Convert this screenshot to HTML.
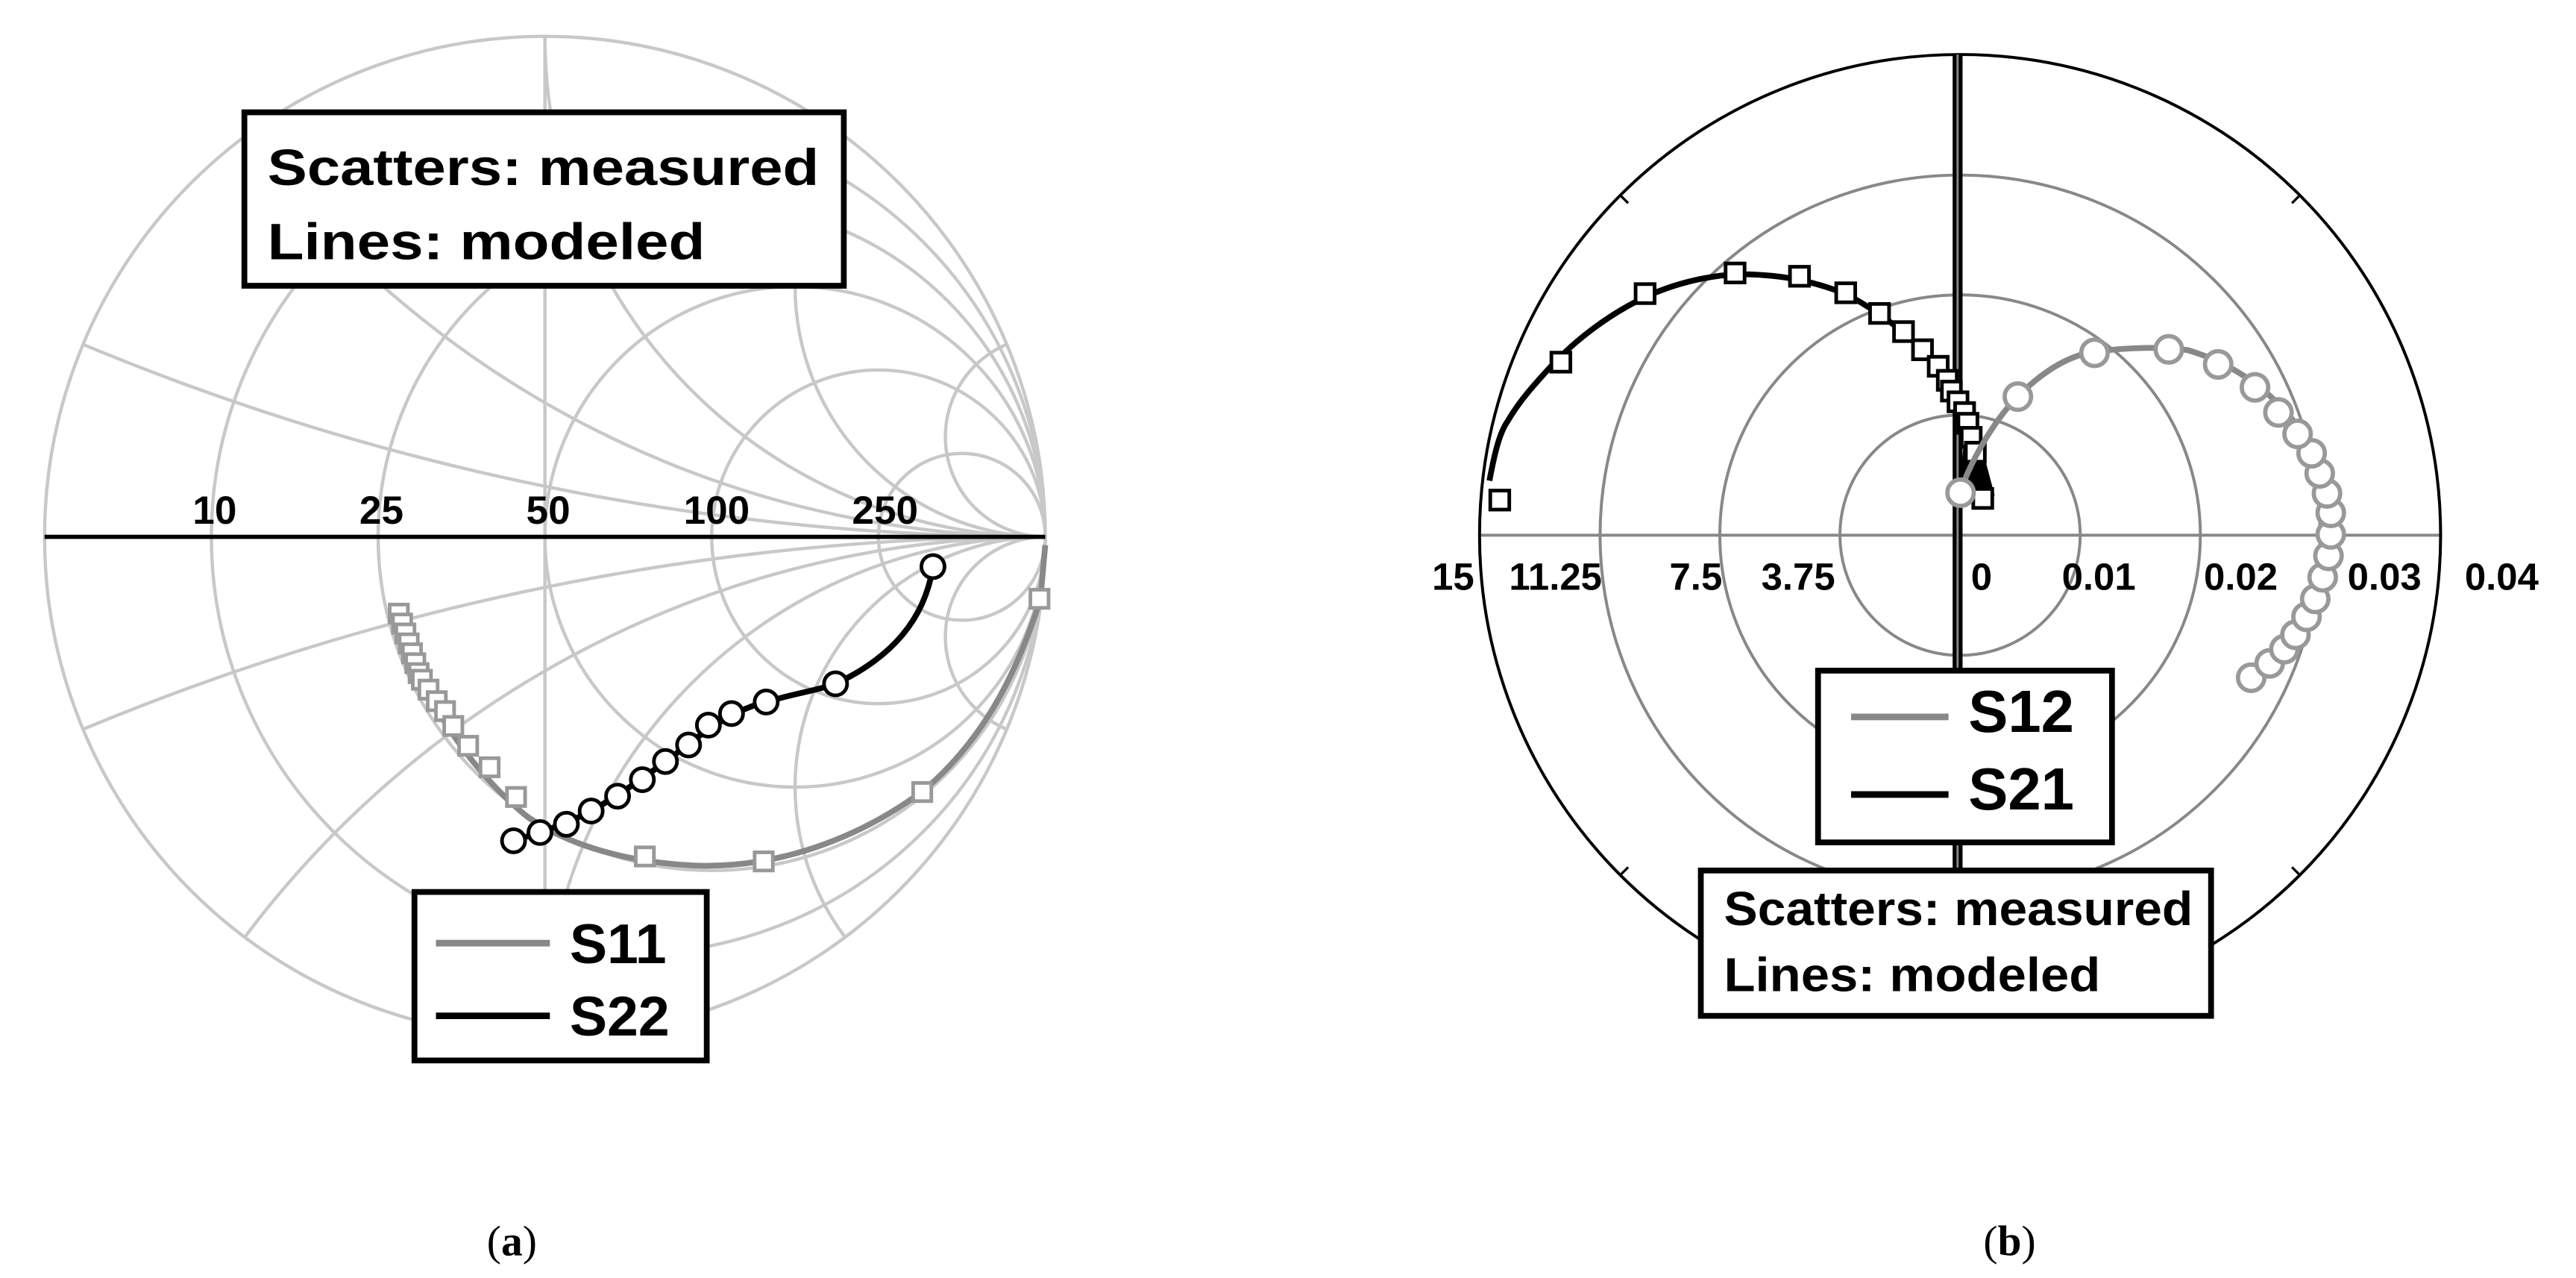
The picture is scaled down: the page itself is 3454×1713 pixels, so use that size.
<!DOCTYPE html>
<html><head><meta charset="utf-8"><style>
html,body{margin:0;padding:0;background:#fff;width:3454px;height:1713px;overflow:hidden;position:relative;}
svg{display:block;position:absolute;left:0;top:0;overflow:hidden;}
text{font-family:"Liberation Sans",Arial,sans-serif;}
</style></head><body>
<svg width="3454" height="1713" viewBox="0 0 1560 773.7" preserveAspectRatio="none" xmlns="http://www.w3.org/2000/svg">
<rect width="1560" height="773.7" fill="#fff"/>
<!-- Smith chart -->
<g fill="none" stroke="#c8c8c8" stroke-width="2">
<circle cx="330" cy="325" r="303"/>
<circle cx="380.5" cy="325" r="252.5"/>
<circle cx="431" cy="325" r="202"/>
<circle cx="481.5" cy="325" r="151.5"/>
<circle cx="532" cy="325" r="101"/>
<circle cx="582.5" cy="325" r="50.5"/>
<path d="M633,325 A1515,1515 0 0 1 50.3,208.5"/>
<path d="M633,325 A1515,1515 0 0 0 50.3,441.5"/>
<path d="M633,325 A606,606 0 0 1 148.2,82.6"/>
<path d="M633,325 A606,606 0 0 0 148.2,567.4"/>
<path d="M633,325 A303,303 0 0 1 330,22"/>
<path d="M633,325 A303,303 0 0 0 330,628"/>
<path d="M633,325 A151.5,151.5 0 0 1 511.8,82.6"/>
<path d="M633,325 A151.5,151.5 0 0 0 511.8,567.4"/>
<path d="M633,325 A60.6,60.6 0 0 1 609.7,208.5"/>
<path d="M633,325 A60.6,60.6 0 0 0 609.7,441.5"/>
<line x1="330" y1="22" x2="330" y2="628"/>
</g>
<line x1="27" y1="325" x2="633" y2="325" stroke="#000" stroke-width="2.5"/>
<g font-size="24" font-weight="bold" text-anchor="middle" fill="#000">
<text x="130" y="317">10</text><text x="231" y="317">25</text><text x="332" y="317">50</text><text x="434" y="317">100</text><text x="536" y="317">250</text>
</g>
<!-- S11 -->
<path d="M241.5,371 C245,390 252,408 262,425 C275,448 295,475 320,495 C345,512 380,522 420,524 C470,526 520,508 560,478 C595,448 615,410 630,363 L633,330" fill="none" stroke="#888" stroke-width="3.5"/>
<g fill="#fff" stroke="#999" stroke-width="2.2">
<rect x="236" y="366" width="11" height="11"/><rect x="238" y="372" width="11" height="11"/><rect x="240" y="378" width="11" height="11"/><rect x="242" y="384" width="11" height="11"/><rect x="244" y="390" width="11" height="11"/><rect x="246" y="396" width="11" height="11"/><rect x="248" y="402" width="11" height="11"/><rect x="250" y="406" width="11" height="11"/>
<rect x="254" y="412" width="11" height="11"/><rect x="259" y="419" width="11" height="11"/><rect x="264" y="425" width="11" height="11"/><rect x="269" y="434" width="11" height="11"/><rect x="278" y="446" width="11" height="11"/><rect x="291" y="459" width="11" height="11"/><rect x="307" y="477" width="11" height="11"/><rect x="385" y="513" width="11" height="11"/><rect x="457" y="516" width="11" height="11"/><rect x="553" y="474" width="11" height="11"/><rect x="624" y="357" width="11" height="11"/>
</g>
<!-- S22 -->
<path d="M311,509 C330,503 345,498 360,490 C380,478 400,464 420,448 C435,437 450,428 464,425 C480,420 495,418 506,414 C540,398 560,375 565,343" fill="none" stroke="#000" stroke-width="3.5"/>
<g fill="#fff" stroke="#000" stroke-width="2.2">
<circle cx="565" cy="343" r="7"/><circle cx="506" cy="414" r="7"/><circle cx="464" cy="425" r="7"/><circle cx="443" cy="432" r="7"/><circle cx="429" cy="439" r="7"/><circle cx="417" cy="451" r="7"/><circle cx="403" cy="461" r="7"/><circle cx="389" cy="472" r="7"/><circle cx="374" cy="482" r="7"/><circle cx="358" cy="491" r="7"/><circle cx="343" cy="499" r="7"/><circle cx="327" cy="504" r="7"/><circle cx="311" cy="509" r="7"/>
</g>
<!-- legends (a) -->
<rect x="148" y="68" width="363" height="105" fill="#fff" stroke="#000" stroke-width="3.5"/>
<text x="162" y="112" font-size="31" font-weight="bold" textLength="334" lengthAdjust="spacingAndGlyphs">Scatters: measured</text>
<text x="162" y="157" font-size="31" font-weight="bold" textLength="265" lengthAdjust="spacingAndGlyphs">Lines: modeled</text>
<rect x="251" y="540" width="177" height="102" fill="#fff" stroke="#000" stroke-width="3.5"/>
<line x1="264" y1="571" x2="333" y2="571" stroke="#888" stroke-width="4"/>
<line x1="264" y1="615" x2="333" y2="615" stroke="#000" stroke-width="4"/>
<text x="345" y="583" font-size="34" font-weight="bold">S11</text>
<text x="345" y="627" font-size="34" font-weight="bold">S22</text>

<!-- Polar chart -->
<g fill="none" stroke="#888" stroke-width="1.8">
<circle cx="1187" cy="324" r="72.75"/><circle cx="1187" cy="324" r="145.5"/><circle cx="1187" cy="324" r="218"/>
<line x1="896" y1="324" x2="1478" y2="324"/>
</g>
<circle cx="1187" cy="324" r="291" fill="none" stroke="#000" stroke-width="1.8"/>
<g stroke="#000" stroke-width="1.5">
<line x1="981" y1="118" x2="986" y2="123"/><line x1="1393" y1="118" x2="1388" y2="123"/>
<line x1="981" y1="530" x2="986" y2="525"/><line x1="1393" y1="530" x2="1388" y2="525"/>
<line x1="896" y1="318" x2="896" y2="330"/><line x1="1478" y1="318" x2="1478" y2="330"/>
</g>
<rect x="1182.5" y="33" width="6" height="582" fill="#000"/>
<line x1="1185.5" y1="33" x2="1185.5" y2="615" stroke="#888" stroke-width="1.3"/>
<g font-size="23" font-weight="bold" text-anchor="middle" fill="#000">
<text x="880" y="357">15</text><text x="942" y="357">11.25</text><text x="1027" y="357">7.5</text><text x="1089" y="357">3.75</text><text x="1200" y="357">0</text><text x="1271" y="357">0.01</text><text x="1357" y="357">0.02</text><text x="1444" y="357">0.03</text><text x="1515" y="357">0.04</text>
</g>
<!-- S21 -->
<path d="M902,291 C905,275 908,262 913,255 C920,243 928,234 940,221 C955,205 975,190 996,180 C1015,171 1035,167 1052,166 C1075,166 1095,169 1118,178 C1140,190 1155,202 1168,216 C1178,230 1186,248 1192,262 C1196,275 1199,290 1201,302" fill="none" stroke="#000" stroke-width="3.5"/>
<polygon points="1187,298 1190,256 1200,270 1208,300 1200,300" fill="#000"/>
<g fill="#fff" stroke="#000" stroke-width="2.2">
<rect x="902.5" y="297" width="11.5" height="11.5"/><rect x="939.5" y="213.5" width="11.5" height="11.5"/><rect x="990.5" y="172" width="11.5" height="11.5"/><rect x="1045" y="159.5" width="11.5" height="11.5"/><rect x="1084" y="161.5" width="11.5" height="11.5"/><rect x="1112" y="171.5" width="11.5" height="11.5"/><rect x="1132.5" y="184" width="11.5" height="11.5"/><rect x="1147" y="195" width="11.5" height="11.5"/><rect x="1158.5" y="206" width="11.5" height="11.5"/><rect x="1168" y="216" width="11.5" height="11.5"/><rect x="1173.5" y="224.5" width="11.5" height="11.5"/><rect x="1176" y="231" width="11.5" height="11.5"/><rect x="1180" y="237.5" width="11.5" height="11.5"/><rect x="1184" y="244" width="11.5" height="11.5"/><rect x="1186" y="250.5" width="11.5" height="11.5"/><rect x="1188" y="259" width="11.5" height="11.5"/><rect x="1190.5" y="268" width="11.5" height="11.5"/><rect x="1195" y="296" width="11.5" height="11.5"/>
</g>
<!-- S12 -->
<path d="M1187,298 C1195,275 1210,252 1222,240 C1240,222 1255,215 1268,213 C1290,210 1310,210 1325,212 C1345,218 1362,228 1375,240 C1395,258 1408,282 1411,305 C1413,325 1410,345 1403,365 C1395,383 1380,400 1363,410" fill="none" stroke="#888" stroke-width="3.5"/>
<g fill="#fff" stroke="#999" stroke-width="2.6">
<circle cx="1363.3" cy="410.3" r="8"/><circle cx="1374.5" cy="401.6" r="8"/><circle cx="1383.4" cy="393" r="8"/><circle cx="1390.1" cy="384.3" r="8"/><circle cx="1396.8" cy="373.4" r="8"/><circle cx="1402.1" cy="362.6" r="8"/><circle cx="1406.6" cy="349.5" r="8"/><circle cx="1410.1" cy="336.5" r="8"/><circle cx="1411.5" cy="323.5" r="8"/><circle cx="1411.5" cy="310.5" r="8"/><circle cx="1409.2" cy="298.7" r="8"/><circle cx="1404.8" cy="286.6" r="8"/><circle cx="1399.9" cy="274.4" r="8"/><circle cx="1391.4" cy="262.7" r="8"/><circle cx="1379.8" cy="249.7" r="8"/><circle cx="1365.6" cy="234.5" r="8"/><circle cx="1343.3" cy="220.6" r="8"/><circle cx="1313.4" cy="211.5" r="8"/><circle cx="1268.4" cy="213.6" r="8"/><circle cx="1222" cy="240.1" r="8"/><circle cx="1187.3" cy="298.3" r="8"/>
</g>
<!-- legends (b) -->
<rect x="1101" y="406" width="178" height="104" fill="#fff" stroke="#000" stroke-width="3.5"/>
<line x1="1121" y1="434" x2="1180" y2="434" stroke="#888" stroke-width="4"/>
<line x1="1121" y1="481" x2="1180" y2="481" stroke="#000" stroke-width="4"/>
<text x="1192" y="443" font-size="36" font-weight="bold">S12</text>
<text x="1192" y="490" font-size="36" font-weight="bold">S21</text>
<rect x="1030" y="527" width="309" height="88" fill="#fff" stroke="#000" stroke-width="3.5"/>
<text x="1044" y="560" font-size="29" font-weight="bold" textLength="284" lengthAdjust="spacingAndGlyphs">Scatters: measured</text>
<text x="1044" y="600" font-size="29" font-weight="bold" textLength="228" lengthAdjust="spacingAndGlyphs">Lines: modeled</text>

<text x="310" y="760" font-size="26" text-anchor="middle" style="font-family:'Liberation Serif',serif">(<tspan font-weight="bold">a</tspan>)</text>
<text x="1217" y="760" font-size="26" text-anchor="middle" style="font-family:'Liberation Serif',serif">(<tspan font-weight="bold">b</tspan>)</text>
</svg>
</body></html>
